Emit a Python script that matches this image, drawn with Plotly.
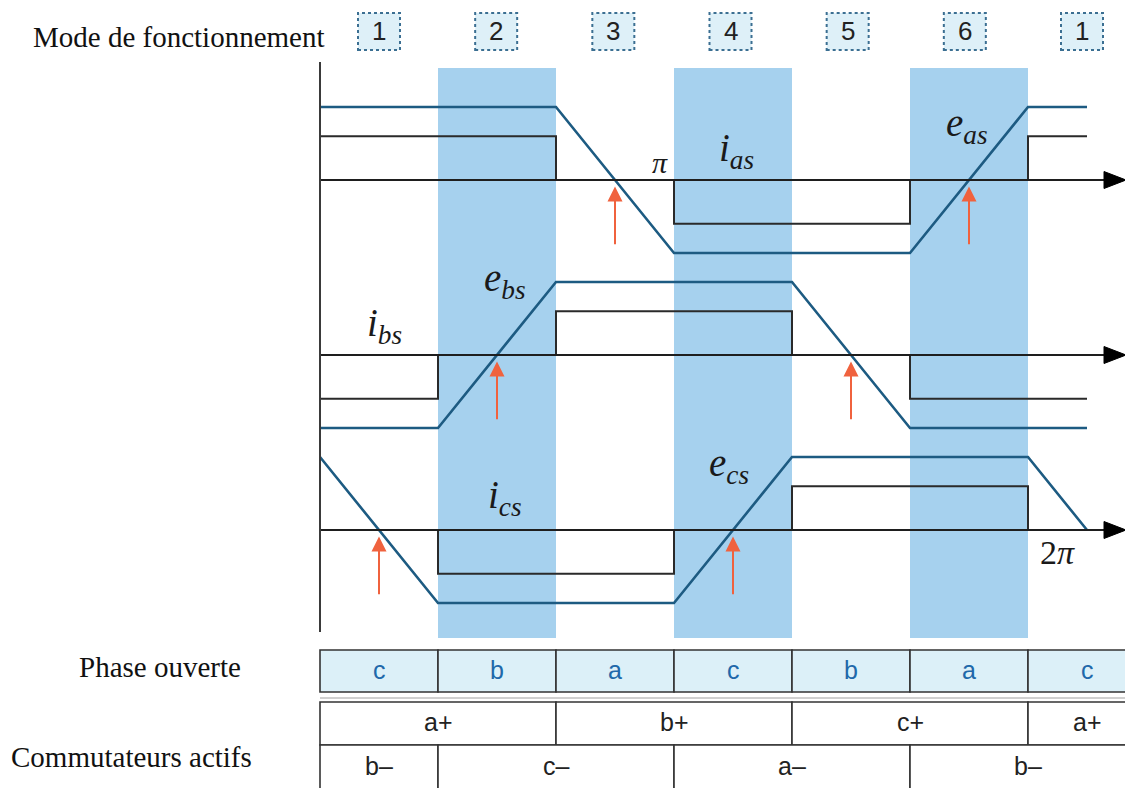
import numpy as np
import plotly.graph_objects as go

W, H = 1125, 788

# ---- data -------------------------------------------------------------
# electrical angle (deg) of the commutation instants / operating modes
mode_edges = [0, 60, 120, 180, 240, 300, 360, 420]
mode_numbers = ["1", "2", "3", "4", "5", "6", "1"]
shaded_modes = ["2", "4", "6"]

# open (unpowered) phase in each mode
open_phase = ["c", "b", "a", "c", "b", "a", "c"]

# active upper / lower switches: (label, start angle, end angle)
upper_switch = [("a+", 0, 120), ("b+", 120, 240), ("c+", 240, 360), ("a+", 360, 420)]
lower_switch = [("b–", 0, 60), ("c–", 60, 180), ("a–", 180, 300), ("b–", 300, 420)]

# trapezoidal back-EMF (normalised) and quasi-square phase currents
ea_theta = [0, 120, 180, 300, 360, 390]
ea_val = [1, 1, -1, -1, 1, 1]
ia_theta = [0, 120, 120, 180, 180, 300, 300, 360, 360, 390]
ia_val = [0.6, 0.6, 0, 0, -0.6, -0.6, 0, 0, 0.6, 0.6]

eb_theta = [0, 60, 120, 240, 300, 390]
eb_val = [-1, -1, 1, 1, -1, -1]
ib_theta = [0, 60, 60, 120, 120, 240, 240, 300, 300, 390]
ib_val = [-0.6, -0.6, 0, 0, 0.6, 0.6, 0, 0, -0.6, -0.6]

ec_theta = [0, 60, 180, 240, 360, 390]
ec_val = [1, -1, -1, 1, 1, 0]
ic_theta = [0, 60, 60, 180, 180, 240, 240, 360, 360, 390]
ic_val = [0, 0, -0.6, -0.6, 0, 0, 0.6, 0.6, 0, 0]

# ---- geometry helpers ---------------------------------------------------
X0_PX = 320          # pixel column of theta = 0
PX_PER_DEG = 118 / 60
UNIT_PX = 73         # pixels per normalised unit
HALF = 1.45          # half range of each panel axis


def deg(px):
    return (px - X0_PX) / PX_PER_DEG


def dx(px):
    return px / PX_PER_DEG


def pyp(px):
    return 1 - px / H


panels = [
    dict(zero=180, e=(ea_theta, ea_val), i=(ia_theta, ia_val), yname="y"),
    dict(zero=355, e=(eb_theta, eb_val), i=(ib_theta, ib_val), yname="y2"),
    dict(zero=530, e=(ec_theta, ec_val), i=(ic_theta, ic_val), yname="y3"),
]

E_COLOR = "#1d5b82"
I_COLOR = "#2a2a2a"
AX_COLOR = "#1e1e1e"
ARROW_COLOR = "#f0623e"
BAND_COLOR = "#a6d1ee"

fig = go.Figure()
shapes = []
annotations = []


def label(**kw):
    kw.setdefault("showarrow", False)
    kw.setdefault("xanchor", "center")
    kw.setdefault("yanchor", "middle")
    annotations.append(kw)


layout_axes = {}
for k, p in enumerate(panels):
    top = p["zero"] - HALF * UNIT_PX
    bot = p["zero"] + HALF * UNIT_PX
    key = "yaxis" if k == 0 else f"yaxis{k + 1}"
    layout_axes[key] = dict(domain=[pyp(bot), pyp(top)], range=[-HALF, HALF],
                            visible=False, fixedrange=True, anchor="x")
    yn = p["yname"]

    # horizontal time axis with arrow head
    x_end = deg(1104)
    shapes.append(dict(type="line", xref="x", yref=yn, x0=0, x1=x_end, y0=0, y1=0,
                       line=dict(color=AX_COLOR, width=2), layer="above"))
    hl = dx(22)
    hh = 8.5 / UNIT_PX
    shapes.append(dict(type="path", xref="x", yref=yn,
                       path=f"M{x_end},{-hh} L{x_end + hl},0 L{x_end},{hh} Z",
                       fillcolor="#000", line=dict(color="#000", width=1), layer="above"))

    # current and back-EMF
    it, iv = p["i"]
    et, ev = p["e"]
    fig.add_trace(go.Scatter(x=it, y=iv, mode="lines", yaxis=yn, xaxis="x",
                             line=dict(color=I_COLOR, width=2), hoverinfo="skip"))
    fig.add_trace(go.Scatter(x=et, y=ev, mode="lines", yaxis=yn, xaxis="x",
                             line=dict(color=E_COLOR, width=2.6), hoverinfo="skip"))

    # zero crossings of the back-EMF marked by arrows
    for j in range(len(et) - 1):
        v0, v1 = ev[j], ev[j + 1]
        if v0 * v1 < 0:
            xc = et[j] + (0 - v0) * (et[j + 1] - et[j]) / (v1 - v0)
            annotations.append(dict(x=xc, y=-0.09, xref="x", yref=yn,
                                    ax=xc, ay=-0.9, axref="x", ayref=yn,
                                    text="", showarrow=True, arrowhead=2,
                                    arrowsize=1.5, arrowwidth=2,
                                    arrowcolor=ARROW_COLOR, standoff=0))

# shaded modes
for n, (a, b) in enumerate(zip(mode_edges[:-1], mode_edges[1:])):
    if mode_numbers[n] in shaded_modes and n < 6:
        shapes.append(dict(type="rect", xref="x", yref="paper", x0=a, x1=b,
                           y0=pyp(638), y1=pyp(68), fillcolor=BAND_COLOR,
                           line=dict(width=0), layer="below"))

# vertical axis
shapes.append(dict(type="line", xref="x", yref="paper", x0=0, x1=0,
                   y0=pyp(632), y1=pyp(62), line=dict(color="#3a3a3a", width=2)))

# waveform labels
serif = "Liberation Serif"
lbls = [
    ("<i>i</i><sub><i>as</i></sub>", 212, 0.40, "y", 39),
    ("<i>e</i><sub><i>as</i></sub>", 329, 0.74, "y", 39),
    ("<i>π</i>", 173, 0.24, "y", 30),
    ("<i>e</i><sub><i>bs</i></sub>", 94, 1.02, "y2", 39),
    ("<i>i</i><sub><i>bs</i></sub>", 33, 0.41, "y2", 39),
    ("<i>e</i><sub><i>cs</i></sub>", 208, 0.88, "y3", 39),
    ("<i>i</i><sub><i>cs</i></sub>", 94, 0.44, "y3", 39),
    ("2<i>π</i>", 375, -0.31, "y3", 34),
]
for t, x, y, yn, size in lbls:
    label(x=x, y=y, xref="x", yref=yn, text=t,
          font=dict(family=serif, size=size, color="#1a1a1a"))

# mode number boxes
box_w = dx(42)
for n, (a, b) in enumerate(zip(mode_edges[:-1], mode_edges[1:])):
    c = (a + b) / 2 - dx(5) * n / 6
    shapes.append(dict(type="rect", xref="x", yref="paper", x0=c - box_w / 2,
                       x1=c + box_w / 2, y0=pyp(50), y1=pyp(13),
                       fillcolor="#def0f8",
                       line=dict(color="#3b6f92", width=2, dash="dot")))
    label(x=c, y=pyp(31), xref="x", yref="paper", text=mode_numbers[n],
          font=dict(family="Liberation Sans", size=26, color="#222"))

# open phase row
for n, (a, b) in enumerate(zip(mode_edges[:-1], mode_edges[1:])):
    shapes.append(dict(type="rect", xref="x", yref="paper", x0=a, x1=b,
                       y0=pyp(692), y1=pyp(650), fillcolor="#dcf0f8",
                       line=dict(color="#333", width=1.6)))
    label(x=(a + b) / 2, y=pyp(670), xref="x", yref="paper", text=open_phase[n],
          font=dict(family="Liberation Sans", size=25, color="#2068aa"))

# active switch rows
for rows, y_top, y_bot, y_txt in ((upper_switch, 702, 745, 722),
                                  (lower_switch, 745, 800, 766)):
    for lab, a, b in rows:
        shapes.append(dict(type="rect", xref="x", yref="paper", x0=a, x1=b,
                           y0=pyp(y_bot), y1=pyp(y_top), fillcolor="white",
                           line=dict(color="#333", width=1.6)))
        label(x=(a + b) / 2, y=pyp(y_txt), xref="x", yref="paper", text=lab,
              font=dict(family="Liberation Sans", size=25, color="#222"))
shapes.append(dict(type="line", xref="x", yref="paper", x0=0, x1=deg(1200),
                   y0=pyp(698), y1=pyp(698), line=dict(color="#d0d0d0", width=2)))

# row titles
for t, xc, yc in (("Mode de fonctionnement", 179, 37),
                  ("Phase ouverte", 160, 667),
                  ("Commutateurs actifs", 131, 757)):
    label(x=xc / W, y=pyp(yc), xref="paper", yref="paper", text=t,
          font=dict(family=serif, size=29, color="#111"))

fig.update_layout(
    width=W, height=H, margin=dict(l=0, r=0, t=0, b=0),
    paper_bgcolor="white", plot_bgcolor="rgba(0,0,0,0)", showlegend=False,
    xaxis=dict(range=[deg(0), deg(W)], visible=False, fixedrange=True, anchor="y"),
    shapes=shapes, annotations=annotations,
    **layout_axes,
)

fig.write_html("out.html")
